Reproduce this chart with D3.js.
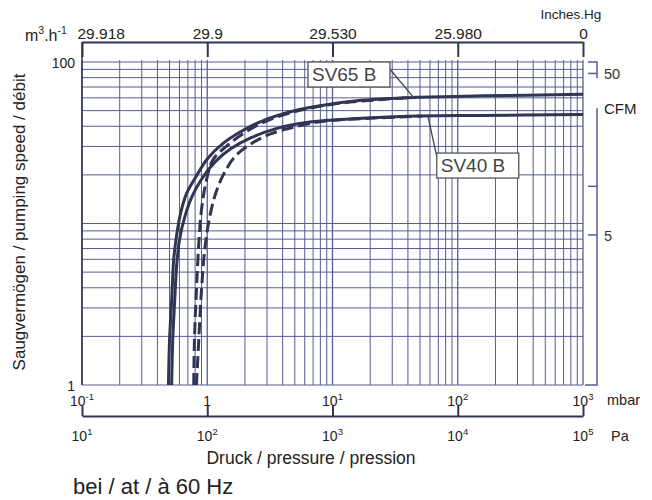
<!DOCTYPE html>
<html>
<head>
<meta charset="utf-8">
<script src="https://cdn.jsdelivr.net/npm/d3@7/dist/d3.min.js"></script>
<style>
  html, body { margin: 0; padding: 0; background: #fff; }
  svg { display: block; font-family: "Liberation Sans", Arial, sans-serif; }
</style>
</head>
<body>
<svg id="chart" width="652" height="500"></svg>
<script>
// ---------- data (pressure in mbar, pumping speed in m3/h) ----------
const sv65SolidP = [0.49, 0.50, 0.52, 0.54, 0.57, 0.61, 0.68, 0.81, 1.0, 1.33, 1.86, 2.8, 4.7, 8.2, 17, 46, 160, 1000];
const sv65SolidS = [1.0, 1.9, 3.35, 6.0, 8.5, 11.4, 15.2, 19.4, 25.1, 31.2, 37.1, 43.4, 49.4, 53.8, 57.9, 60.4, 61.7, 63.1];

const sv40SolidP = [0.52, 0.53, 0.55, 0.57, 0.60, 0.66, 0.75, 0.90, 1.15, 1.54, 2.24, 3.55, 6.2, 11.8, 36, 157, 1000];
const sv40SolidS = [1.0, 1.88, 3.35, 5.5, 7.9, 10.9, 14.5, 18.8, 24.0, 29.0, 34.0, 38.7, 42.2, 44.0, 46.0, 46.7, 47.3];

const sv65DashP = [0.78, 0.79, 0.82, 0.855, 0.90, 0.97, 1.11, 1.41, 1.93, 2.79, 4.7, 9.8, 24.7, 46];
const sv65DashS = [1.0, 1.88, 3.9, 7.4, 12.2, 17.5, 24.8, 29.9, 36.0, 42.2, 48.7, 54.6, 58.6, 60.4];

const sv40DashP = [0.82, 0.855, 0.90, 0.955, 1.03, 1.15, 1.33, 1.66, 2.24, 3.24, 5.14, 8.16, 17.1, 52];
const sv40DashS = [1.0, 1.88, 3.9, 6.9, 10.3, 14.8, 19.7, 25.9, 31.2, 36.0, 39.8, 42.8, 44.6, 46.2];

const mbarTicks = [0.1, 1, 10, 100, 1000];
const mbarLabels = [["10", "-1"], ["1", ""], ["10", "1"], ["10", "2"], ["10", "3"]];
const paTicks = [10, 100, 1000, 10000, 100000];
const paLabels = [["10", "1"], ["10", "2"], ["10", "3"], ["10", "4"], ["10", "5"]];
const inHgTickMbar = [0.1, 1, 10, 100, 1000];
const inHgLabels = ["29.918", "29.9", "29.530", "25.980", "0"];
const speedTicks = [1, 100];
const cfmTicks = [50, 10, 5];
const cfmLabels = ["50", "", "5"];
const M3H_PER_CFM = 1.699;

// annotation anchors (data coordinates)
const labelNames = ["SV65 B", "SV40 B"];
const labelBoxP = [6.37, 68];      // left edge of box
const labelBoxS = [100, 27.3];     // top edge of box
const leaderFromP = [45, 58];      // point on curve
const leaderFromS = [59.5, 45.6];

// ---------- layout ----------
const svg = d3.select("#chart");
const X0 = 82, X1 = 583, Y0 = 62, Y1 = 385;
const x = d3.scaleLog().domain([0.1, 1000]).range([X0, X1]);
const xPa = d3.scaleLog().domain([10, 100000]).range([X0, X1]);
const y = d3.scaleLog().domain([1, 100]).range([Y1, Y0]);
const yCfm = d3.scaleLog().domain([1 / M3H_PER_CFM, 100 / M3H_PER_CFM]).range([Y1, Y0]);

const gridColor = "#575d92";
const inkColor = "#2f3552";

// grid values
const xGrid = [];
for (let d = -1; d < 3; d++) for (let k = 1; k <= 9; k++) xGrid.push(k * Math.pow(10, d));
xGrid.push(1000);
const yGrid = [];
for (let d = 0; d < 2; d++) for (let k = 1; k <= 9; k++) yGrid.push(k * Math.pow(10, d));
yGrid.push(100);

const grid = svg.append("g");
grid.selectAll("line.v").data(xGrid).join("line")
  .attr("x1", d => x(d)).attr("x2", d => x(d))
  .attr("y1", Y0 - 2).attr("y2", Y1)
  .attr("stroke", gridColor).attr("stroke-width", d => (Math.abs(Math.log10(d) % 1) < 1e-9 ? 1.3 : 1));
grid.selectAll("line.h").data(yGrid).join("line")
  .attr("x1", X0).attr("x2", X1)
  .attr("y1", d => y(d)).attr("y2", d => y(d))
  .attr("stroke", gridColor).attr("stroke-width", 1);

// left axis line
svg.append("line").attr("x1", X0).attr("x2", X0).attr("y1", 42).attr("y2", Y1)
  .attr("stroke", inkColor).attr("stroke-width", 1.5);

// left tick labels
svg.selectAll("text.yl").data(speedTicks).join("text")
  .attr("x", 75).attr("y", d => y(d) + 6)
  .attr("text-anchor", "end").attr("font-size", 14).attr("fill", "#222")
  .text(d => d);

// top axis (inches Hg)
const gTop = svg.append("g").attr("transform", "translate(0,42)");
gTop.call(d3.axisTop(x).tickValues(inHgTickMbar).tickSize(-15).tickSizeOuter(0)
  .tickFormat((d, i) => inHgLabels[i]));
gTop.select(".domain").attr("stroke", inkColor).attr("stroke-width", 2);
gTop.selectAll(".tick line").attr("stroke", inkColor).attr("stroke-width", 2);
gTop.selectAll(".tick text").attr("font-size", 15.5).attr("fill", "#222")
  .attr("font-family", "Liberation Sans, Arial, sans-serif").attr("dy", "-0.05em")
  .attr("y", -2);
gTop.selectAll(".tick text").filter((d, i) => i === 0).attr("text-anchor", "start").attr("dx", -5);

svg.append("text").attr("x", 571).attr("y", 19).attr("text-anchor", "middle")
  .attr("font-size", 13.5).attr("fill", "#222").text("Inches.Hg");
const mh = svg.append("text").attr("x", 25).attr("y", 41).attr("font-size", 16).attr("fill", "#222");
mh.append("tspan").text("m");
mh.append("tspan").attr("dy", -7).attr("font-size", 10.5).text("3");
mh.append("tspan").attr("dy", 7).text(".h");
mh.append("tspan").attr("dy", -7).attr("font-size", 10.5).text("-1");

// right axis (CFM)
const RX = 597;
const gapTop = yCfm(46.7), gapBot = yCfm(30.4);
svg.append("path")
  .attr("d", `M${RX - 9},${Y0}H${RX}V${gapTop}M${RX},${gapBot}V${Y1}H${RX - 12}`)
  .attr("fill", "none").attr("stroke", gridColor).attr("stroke-width", 1.5);
svg.selectAll("line.rt").data(cfmTicks).join("line")
  .attr("x1", RX - 9).attr("x2", RX).attr("y1", d => yCfm(d)).attr("y2", d => yCfm(d))
  .attr("stroke", gridColor).attr("stroke-width", 1.5);
svg.selectAll("text.rl").data(cfmTicks).join("text")
  .attr("x", 604).attr("y", d => yCfm(d) + 6)
  .attr("font-size", 14.5).attr("fill", "#333")
  .text((d, i) => cfmLabels[i]);
svg.append("text").attr("x", 604).attr("y", 114).attr("font-size", 15).attr("fill", "#222").text("CFM");

// curves
const line = d3.line().x(d => x(d[0])).y(d => y(d[1])).curve(d3.curveCatmullRom.alpha(0.5));
const zip = (a, b) => a.map((v, i) => [v, b[i]]);
const curves = [
  { p: sv40SolidP, s: sv40SolidS, dash: null },
  { p: sv65SolidP, s: sv65SolidS, dash: null },
  { p: sv40DashP, s: sv40DashS, dash: "12,5" },
  { p: sv65DashP, s: sv65DashS, dash: "12,5" }
];
svg.append("g").selectAll("path").data(curves).join("path")
  .attr("d", c => line(zip(c.p, c.s)))
  .attr("fill", "none").attr("stroke", inkColor).attr("stroke-width", 3)
  .attr("stroke-dasharray", c => c.dash);

// annotations
const BW = 82, BH = 25;
const ann = svg.append("g");
labelNames.forEach((name, i) => {
  const bx = x(labelBoxP[i]), by = y(labelBoxS[i]);
  const lx = x(leaderFromP[i]), ly = y(leaderFromS[i]);
  const ex = i === 0 ? bx + BW - 1 : bx + 1;
  const ey = i === 0 ? by + 6 : by + 8;
  ann.append("line").attr("x1", lx).attr("y1", ly).attr("x2", ex).attr("y2", ey)
    .attr("stroke", "#444").attr("stroke-width", 1.3);
  ann.append("rect").attr("x", bx).attr("y", by).attr("width", BW).attr("height", BH)
    .attr("fill", "#fff").attr("stroke", "#555").attr("stroke-width", 1.3);
  ann.append("text").attr("x", bx + 4).attr("y", by + 19).attr("font-size", 19)
    .attr("fill", "#444").text(name);
});

// bottom mbar labels
const mb = svg.selectAll("text.mb").data(mbarTicks).join("text")
  .attr("x", d => x(d)).attr("y", 406).attr("text-anchor", "middle")
  .attr("font-size", 14).attr("fill", "#222");
mb.append("tspan").text((d, i) => mbarLabels[i][0]);
mb.append("tspan").attr("dy", -6).attr("font-size", 9.5).text((d, i) => mbarLabels[i][1]);
svg.append("text").attr("x", 607).attr("y", 405).attr("font-size", 14.5).attr("fill", "#222").text("mbar");

// Pa axis
const gPa = svg.append("g").attr("transform", "translate(0,416)");
gPa.call(d3.axisTop(xPa).tickValues(paTicks).tickSize(10).tickSizeOuter(0).tickFormat(""));
gPa.select(".domain").attr("stroke", inkColor).attr("stroke-width", 2);
gPa.selectAll(".tick line").attr("stroke", inkColor).attr("stroke-width", 2);
const pa = svg.selectAll("text.pa").data(paTicks).join("text")
  .attr("x", d => xPa(d)).attr("y", 441).attr("text-anchor", "middle")
  .attr("font-size", 14).attr("fill", "#222");
pa.append("tspan").text((d, i) => paLabels[i][0]);
pa.append("tspan").attr("dy", -6).attr("font-size", 9.5).text((d, i) => paLabels[i][1]);
svg.append("text").attr("x", 611).attr("y", 441).attr("font-size", 14.5).attr("fill", "#222").text("Pa");

svg.append("text").attr("x", 311).attr("y", 464).attr("text-anchor", "middle")
  .attr("font-size", 17.5).attr("fill", "#222").text("Druck / pressure / pression");
svg.append("text").attr("x", 73).attr("y", 494)
  .attr("font-size", 22).attr("fill", "#222").text("bei / at / à 60 Hz");

// y title
svg.append("text").attr("transform", "translate(25,222) rotate(-90)")
  .attr("text-anchor", "middle").attr("font-size", 17).attr("fill", "#222")
  .text("Saugvermögen / pumping speed / débit");
</script>
</body>
</html>
